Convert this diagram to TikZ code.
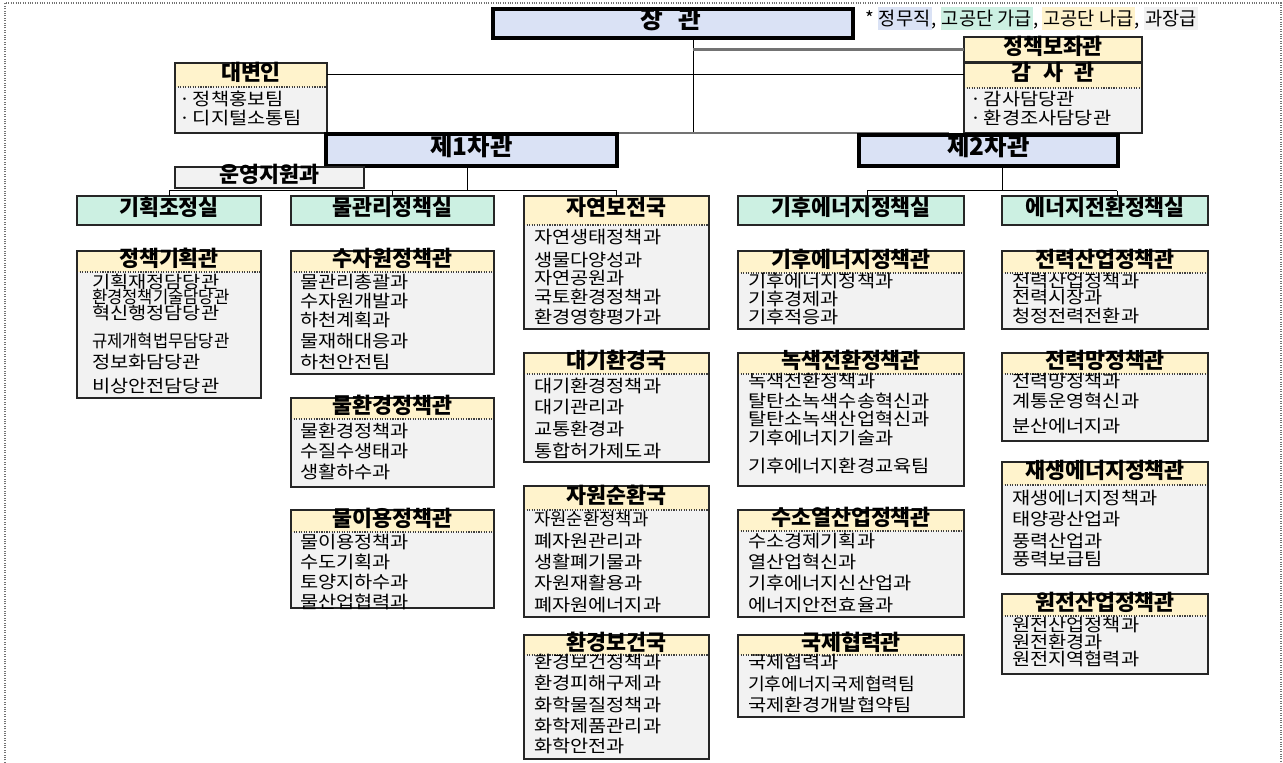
\documentclass[tikz,border=0pt]{standalone}
\usepackage{fontspec}
\usepackage{graphicx}
\setmainfont{Noto Sans CJK KR}
\newfontfamily\bodyfont[FakeStretch=1.14]{Noto Sans CJK KR}
\usetikzlibrary{fit,calc}
\definecolor{cblue}{HTML}{DAE2F5}
\definecolor{cmint}{HTML}{CCF0E2}
\definecolor{cyel}{HTML}{FFF3CC}
\definecolor{cgray}{HTML}{F2F2F2}
\definecolor{cline}{HTML}{262626}
\newcommand\legbox[2]{{\setlength{\fboxsep}{0.8pt}\colorbox{#1}{\rule[-0.22em]{0pt}{1.12em}#2}}}
\tikzset{
  every node/.style={inner sep=0pt, outer sep=0pt},
  frame/.style={draw=cline, line width=1.2pt},
  topframe/.style={draw=black, line width=2.3pt},
  hdrtext/.style={font=\bfseries\fontsize{16.3}{19}\selectfont, text height=0.78em, text depth=0pt},
  bigtext/.style={font=\bfseries\fontsize{18.3}{21}\selectfont, text height=0.78em, text depth=0pt},
  bodytext/.style={anchor=west, font=\bodyfont\fontsize{13}{15}\selectfont, text height=0.76em, text depth=0pt},
  sepline/.style={densely dotted, black!75, line width=0.9pt},
  conn/.style={black, line width=0.75pt},
  gconn/.style={black!55, line width=1.6pt},
  outerframe/.style={densely dotted, black!55, line width=0.8pt},
}
% name, x1, y1, x2, y2, yheader, title
\newcommand\obox[7]{%
  \fill[cgray] (#2,#6) rectangle (#4,#5);
  \fill[cyel] (#2,#3) rectangle (#4,#6);
  \draw[sepline] (#2,#6) -- (#4,#6);
  \node[frame, fit={(#2,#3) (#4,#5)}] (#1) {};
  \node[hdrtext] (#1-t) at ({(#2+#4)/2},{(#3+#6)/2}) {#7};
}
% name, x1, y1, x2, y2, style, title
\newcommand\plainbox[7]{%
  \node[#6, fit={(#2,#3) (#4,#5)}] (#1) {};
  \node[hdrtext] (#1-t) at ({(#2+#4)/2},{(#3+#5)/2}) {#7};
}
\newcommand\bl[4]{\node[bodytext] (#1) at (#2,#3) {#4};}
\newcommand\sq[1]{\scalebox{0.84}[1]{#1}}
\begin{document}
\begin{tikzpicture}[x=0.75pt,y=-0.75pt]
\useasboundingbox (0,0) rectangle (1283,763);
\fill[white] (0,0) rectangle (1283,763);
\draw[outerframe] (5,770) -- (5,3) -- (1281,3) -- (1281,770);

% junction points of the connectors
\coordinate (j0) at (693,133);
\coordinate (j1) at (494,133);
\coordinate (j2) at (949,133);
\coordinate (k1) at (467,191);
\coordinate (k2) at (1002,191);
\coordinate (k2l) at (867,191);
\coordinate (k2r) at (1117,191);

% top boxes
\node[topframe, fill=cblue, fit={(493,9) (853,38)}] (min) {};
\node[bigtext, font=\bfseries\fontsize{18.5}{21}\selectfont] (min-t) at (671,23.5) {장\hspace{0.6em}관};
\node[anchor=west, font=\fontsize{14}{16}\selectfont, text height=0.78em, text depth=0pt] (legend) at (865,20)
  {* \legbox{cblue}{정무직}, \legbox{cmint}{고공단 가급}, \legbox{cyel}{고공단 나급}, \legbox{cgray}{과장급}};

\draw[conn] (min.south -| j0) -- (j0);
\draw[gconn] (j1) -- (j2);

\plainbox{aide}{964}{37}{1142}{62}{frame, fill=cyel}{정책보좌관}
\obox{audit}{964}{63}{1142}{133}{88}{감\hspace{0.55em}사\hspace{0.55em}관}
\bl{audit-1}{970}{100}{·\,감사담당관}
\bl{audit-2}{970}{119}{·\,환경조사담당관}

\obox{spk}{175}{63}{327}{133}{87}{대변인}
\bl{spk-1}{179}{100}{·\,정책홍보팀}
\bl{spk-2}{179}{119}{·\,디지털소통팀}

\draw[gconn] (j0 |- aide.west) -- (aide.west);
\draw[conn] (spk.east |- spk-t) -- (audit.west |- spk-t);

\node[topframe, fill=cblue, fit={(326,134) (617,166)}] (v1) {};
\node[bigtext] (v1-t) at (471.5,150) {제1차관};
\node[topframe, fill=cblue, fit={(859,135) (1118,166)}] (v2) {};
\node[bigtext] (v2-t) at (988.5,150.5) {제2차관};

\plainbox{ops}{175}{167}{364}{188}{frame, fill=cgray}{운영지원과}

% 1st vice connectors
\draw[conn] (v1.south -| k1) -- (k1);
\draw[conn] ($(ops.north east)+(0,3)$) -- ($(ops.north east)+(0,3)$ -| k1);

% offices
\plainbox{s1}{77}{196}{261}{225}{frame, fill=cmint}{기획조정실}
\plainbox{s2}{291}{196}{494}{225}{frame, fill=cmint}{물관리정책실}
\obox{b3}{524}{196}{709}{329}{225}{자연보전국}
\plainbox{s4}{738}{196}{964}{225}{frame, fill=cmint}{기후에너지정책실}
\plainbox{s5}{1002}{196}{1208}{225}{frame, fill=cmint}{에너지전환정책실}

\draw[conn] (s1.north |- k1) -- (b3.north |- k1);
\draw[conn] (s1.north |- k1) -- (s1.north);
\draw[conn] (s2.north |- k1) -- (s2.north);
\draw[conn] (b3.north |- k1) -- (b3.north);

\draw[conn] (v2.south -| k2) -- (k2);
\draw[conn] (k2l) -- (k2r);
\draw[conn] (k2l) -- (s4.north -| k2l);
\draw[conn] (k2r) -- (s5.north -| k2r);

% column 3 first box lines
\bl{b3-1}{534}{238}{자연생태정책과}
\bl{b3-2}{534}{261}{생물다양성과}
\bl{b3-3}{534}{279}{자연공원과}
\bl{b3-4}{534}{298}{국토환경정책과}
\bl{b3-5}{534}{318}{환경영향평가과}

% column 1
\obox{c1a}{77}{251}{261}{398}{272}{정책기획관}
\bl{c1a-1}{92}{283}{기획재정담당관}
\bl{c1a-2}{92}{298}{\sq{환경정책기술담당관}}
\bl{c1a-3}{92}{314}{혁신행정담당관}
\bl{c1a-4}{92}{342}{\sq{규제개혁법무담당관}}
\bl{c1a-5}{92}{363}{정보화담당관}
\bl{c1a-6}{92}{387}{비상안전담당관}

% column 2
\obox{c2a}{291}{251}{494}{374}{272}{수자원정책관}
\bl{c2a-1}{300}{283}{물관리총괄과}
\bl{c2a-2}{300}{302}{수자원개발과}
\bl{c2a-3}{300}{321}{하천계획과}
\bl{c2a-4}{300}{342}{물재해대응과}
\bl{c2a-5}{300}{363}{하천안전팀}

\obox{c2b}{291}{398}{494}{487}{419}{물환경정책관}
\bl{c2b-1}{300}{432}{물환경정책과}
\bl{c2b-2}{300}{452}{수질수생태과}
\bl{c2b-3}{300}{473}{생활하수과}

\obox{c2c}{291}{510}{494}{608}{532}{물이용정책관}
\bl{c2c-1}{300}{543}{물이용정책과}
\bl{c2c-2}{300}{563}{수도기획과}
\bl{c2c-3}{300}{583}{토양지하수과}
\bl{c2c-4}{300}{603}{물산업협력과}

% column 3
\obox{c3b}{524}{353}{709}{462}{374}{대기환경국}
\bl{c3b-1}{534}{387}{대기환경정책과}
\bl{c3b-2}{534}{408}{대기관리과}
\bl{c3b-3}{534}{430}{교통환경과}
\bl{c3b-4}{534}{452}{통합허가제도과}

\obox{c3c}{524}{486}{709}{617}{510}{자원순환국}
\bl{c3c-1}{534}{520}{\scalebox{0.9}[1]{자원순환정책과}}
\bl{c3c-2}{534}{542}{폐자원관리과}
\bl{c3c-3}{534}{563}{생활폐기물과}
\bl{c3c-4}{534}{584}{자원재활용과}
\bl{c3c-5}{534}{606}{폐자원에너지과}

\obox{c3d}{524}{635}{709}{759}{655}{환경보건국}
\bl{c3d-1}{534}{663}{환경보건정책과}
\bl{c3d-2}{534}{684}{환경피해구제과}
\bl{c3d-3}{534}{706}{화학물질정책과}
\bl{c3d-4}{534}{727}{화학제품관리과}
\bl{c3d-5}{534}{747}{화학안전과}

% column 4
\obox{c4a}{738}{251}{964}{329}{273}{기후에너지정책관}
\bl{c4a-1}{748}{282}{기후에너지정책과}
\bl{c4a-2}{748}{300}{기후경제과}
\bl{c4a-3}{748}{318}{기후적응과}

\obox{c4b}{738}{353}{964}{486}{374}{녹색전환정책관}
\bl{c4b-1}{748}{382}{녹색전환정책과}
\bl{c4b-2}{748}{402}{탈탄소녹색수송혁신과}
\bl{c4b-3}{748}{420}{탈탄소녹색산업혁신과}
\bl{c4b-4}{748}{439}{기후에너지기술과}
\bl{c4b-5}{748}{467}{기후에너지환경교육팀}

\obox{c4c}{738}{510}{964}{617}{531}{수소열산업정책관}
\bl{c4c-1}{748}{542}{수소경제기획과}
\bl{c4c-2}{748}{563}{열산업혁신과}
\bl{c4c-3}{748}{584}{기후에너지신산업과}
\bl{c4c-4}{748}{606}{에너지안전효율과}

\obox{c4d}{738}{635}{964}{717}{655}{국제협력관}
\bl{c4d-1}{748}{663}{국제협력과}
\bl{c4d-2}{748}{685}{\scalebox{0.92}[1]{기후에너지국제협력팀}}
\bl{c4d-3}{748}{706}{국제환경개발협약팀}

% column 5
\obox{c5a}{1002}{251}{1208}{329}{273}{전력산업정책관}
\bl{c5a-1}{1012}{282}{전력산업정책과}
\bl{c5a-2}{1012}{298}{전력시장과}
\bl{c5a-3}{1012}{317}{청정전력전환과}

\obox{c5b}{1002}{353}{1208}{441}{374}{전력망정책관}
\bl{c5b-1}{1012}{382}{전력망정책과}
\bl{c5b-2}{1012}{402}{계통운영혁신과}
\bl{c5b-3}{1012}{427}{분산에너지과}

\obox{c5c}{1002}{462}{1208}{574}{485}{재생에너지정책관}
\bl{c5c-1}{1012}{499}{재생에너지정책과}
\bl{c5c-2}{1012}{520}{태양광산업과}
\bl{c5c-3}{1012}{542}{풍력산업과}
\bl{c5c-4}{1012}{560}{풍력보급팀}

\obox{c5d}{1002}{594}{1208}{674}{616}{원전산업정책관}
\bl{c5d-1}{1012}{626}{원전산업정책과}
\bl{c5d-2}{1012}{643}{원전환경과}
\bl{c5d-3}{1012}{660}{원전지역협력과}
\end{tikzpicture}
\end{document}
